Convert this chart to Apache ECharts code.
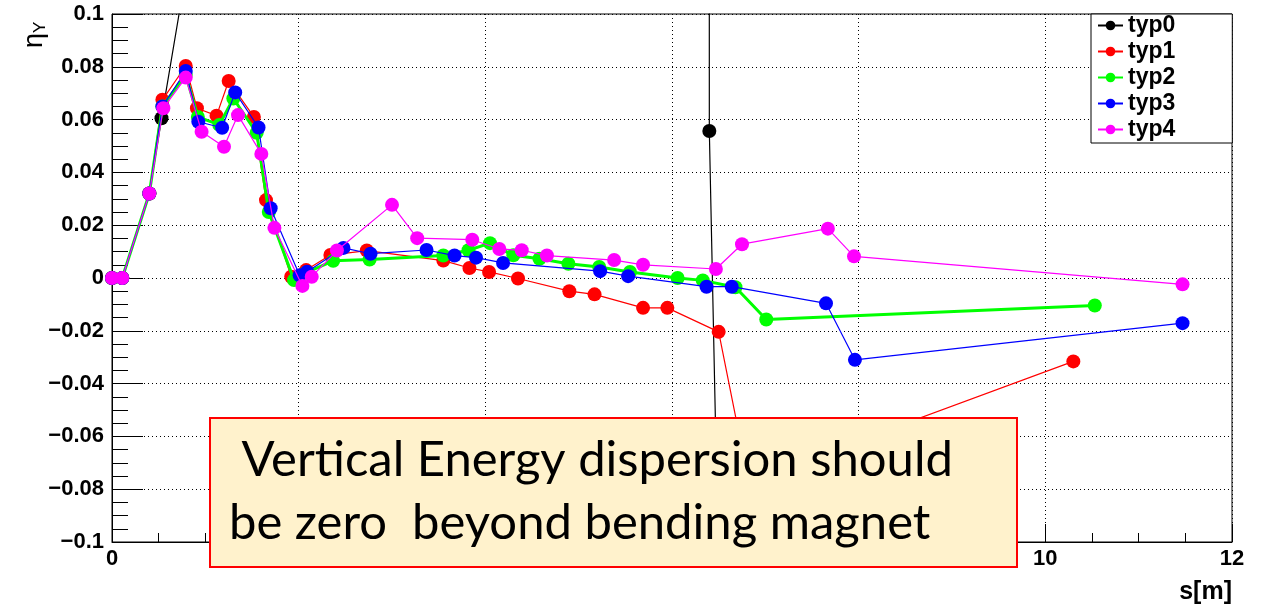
<!DOCTYPE html>
<html>
<head>
<meta charset="utf-8">
<script src="https://cdn.jsdelivr.net/npm/echarts@6.0.0/dist/echarts.min.js"></script>
<style>
  html, body { margin: 0; padding: 0; background: #fff; }
  #chart { width: 1261px; height: 607px; }
</style>
</head>
<body>
<div id="chart"></div>
<script>
// eta_Y vs s for five lattice types, [s (m), eta_Y]
const SERIES_NAMES = ['typ0', 'typ1', 'typ2', 'typ3', 'typ4'];
const SERIES_COLORS = ['#000000', '#ff0000', '#00ff00', '#0000ff', '#ff00ff'];

// typ0 runs off the frame: only a few points fall inside the window
const typ0 = [[0, 0], [0.11, 0], [0.40, 0.032], [0.53, 0.0605], [0.79, 0.115],
  [6.39, 1.5], [6.40, 0.0557], [6.70, -0.45]];

const typ1 = [[0, 0], [0.11, 0], [0.40, 0.032], [0.54, 0.0675], [0.79, 0.0803], [0.91, 0.0643],
  [1.12, 0.0615], [1.25, 0.0746], [1.52, 0.061], [1.65, 0.0295], [1.92, 0.0005], [2.08, 0.003],
  [2.34, 0.0087], [2.73, 0.0104], [3.55, 0.0066], [3.83, 0.0038], [4.04, 0.0023], [4.35, -0.0002],
  [4.90, -0.005], [5.17, -0.0062], [5.69, -0.0113], [5.95, -0.0113], [6.50, -0.0204],
  [6.82, -0.077], [10.30, -0.0316]];

const typ2 = [[0, 0], [0.11, 0], [0.40, 0.032], [0.54, 0.065], [0.79, 0.077], [0.92, 0.061],
  [1.15, 0.058], [1.30, 0.068], [1.55, 0.055], [1.68, 0.025], [1.95, -0.0008], [2.08, 0.002],
  [2.37, 0.0065], [2.76, 0.007], [3.55, 0.0085], [3.82, 0.0105], [4.05, 0.0132], [4.30, 0.0086],
  [4.58, 0.0073], [4.89, 0.0054], [5.22, 0.0042], [5.55, 0.0023], [6.06, 0.0], [6.33, -0.0009],
  [6.68, -0.0035], [7.01, -0.0157], [10.53, -0.0104]];

const typ3 = [[0, 0], [0.11, 0], [0.40, 0.032], [0.54, 0.065], [0.79, 0.0784], [0.925, 0.0592],
  [1.18, 0.0569], [1.32, 0.0703], [1.57, 0.057], [1.70, 0.0264], [2.01, 0.001], [2.09, 0.0024],
  [2.48, 0.0114], [2.77, 0.0092], [3.37, 0.0106], [3.67, 0.0085], [3.90, 0.0077], [4.19, 0.0057],
  [5.23, 0.0026], [5.53, 0.0007], [6.37, -0.0033], [6.64, -0.0033], [7.65, -0.0096],
  [7.96, -0.031], [11.47, -0.0171]];

const typ4 = [[0, 0], [0.11, 0], [0.40, 0.032], [0.55, 0.0643], [0.79, 0.0759], [0.96, 0.0554],
  [1.20, 0.0497], [1.35, 0.0617], [1.60, 0.047], [1.74, 0.019], [2.04, -0.003], [2.14, 0.0005],
  [2.41, 0.0104], [3.00, 0.0277], [3.27, 0.0151], [3.86, 0.0145], [4.15, 0.011], [4.39, 0.0105],
  [4.66, 0.0085], [5.38, 0.0068], [5.69, 0.005], [6.47, 0.0034], [6.75, 0.0128], [7.67, 0.0187],
  [7.95, 0.0082], [11.47, -0.0024]];

const SERIES_DATA = [typ0, typ1, typ2, typ3, typ4];
const LINE_WIDTHS = [1.2, 1.2, 3, 1.2, 1.2];

const NOTE_LINES = [' Vertical Energy dispersion should', 'be zero  beyond bending magnet'];

const FONT = '"Liberation Sans", Arial, Helvetica, sans-serif';
const NOTE_FONT = 'Lato, "Open Sans", sans-serif';
const fmtY = (v) => {
  const r = Math.round(v * 100) / 100;
  return r === 0 ? '0' : String(r).replace('-', '\u2212');
};

const chart = echarts.init(document.getElementById('chart'), null, { renderer: 'canvas' });

const dotted = { color: '#000', width: 1, type: [1, 3] };

chart.setOption({
  animation: false,
  backgroundColor: '#fff',
  grid: { left: 112, top: 14, right: 29, bottom: 65, show: true, borderColor: '#000', borderWidth: 1 },
  xAxis: {
    type: 'value', min: 0, max: 12, interval: 2,
    axisLine: { show: true, onZero: false, lineStyle: { color: '#000', width: 1 } },
    axisTick: { inside: true, length: 18, lineStyle: { color: '#000' } },
    minorTick: { show: true, splitNumber: 4, length: 9, lineStyle: { color: '#000' } },
    splitLine: { show: true, lineStyle: dotted },
    axisLabel: { color: '#000', fontFamily: FONT, fontWeight: 'bold', fontSize: 22, margin: 6 },
    name: 's[m]', nameLocation: 'end', nameGap: 0,
    nameTextStyle: { color: '#000', fontFamily: FONT, fontWeight: 'bold', fontSize: 25,
      align: 'right', verticalAlign: 'top', padding: [38, 0, 0, 0] },
  },
  yAxis: {
    type: 'value', min: -0.1, max: 0.1, interval: 0.02,
    axisLine: { show: true, onZero: false, lineStyle: { color: '#000', width: 1 } },
    axisTick: { inside: true, length: 31, lineStyle: { color: '#000' } },
    minorTick: { show: true, splitNumber: 4, length: 16, lineStyle: { color: '#000' } },
    splitLine: { show: true, lineStyle: dotted },
    axisLabel: { color: '#000', fontFamily: FONT, fontWeight: 'bold', fontSize: 22, margin: 8, formatter: fmtY },
  },
  legend: {
    orient: 'vertical', left: 1091, top: 14,
    data: SERIES_NAMES,
    backgroundColor: '#fff', borderColor: '#000', borderWidth: 1, borderRadius: 0,
    padding: [0, 57, 2, 6],
    itemWidth: 25, itemHeight: 12, itemGap: 3,
    textStyle: { color: '#000', fontFamily: FONT, fontWeight: 'bold', fontSize: 23, lineHeight: 20 },
  },
  series: SERIES_NAMES.map((name, i) => ({
    name, type: 'line', data: SERIES_DATA[i],
    symbol: 'circle', symbolSize: 14,
    itemStyle: { color: SERIES_COLORS[i] },
    lineStyle: { color: SERIES_COLORS[i], width: LINE_WIDTHS[i] },
    clip: true, z: 2 + i,
  })),
  graphic: [
    {
      type: 'text', x: 20, y: 48, rotation: Math.PI / 2, z: 50,
      style: {
        text: '{a|\u03b7}{b|Y}',
        rich: {
          a: { fontFamily: FONT, fontSize: 27, fill: '#000' },
          b: { fontFamily: FONT, fontSize: 17, fill: '#000', padding: [12, 0, 0, 0] },
        },
      },
    },
    {
      type: 'group', z: 100,
      children: [
        { type: 'rect', shape: { x: 210, y: 418, width: 807, height: 149 },
          style: { fill: '#fff2cc', stroke: '#ff0000', lineWidth: 2 }, z: 100 },
        { type: 'text', x: 229, y: 436, z: 101,
          style: { text: NOTE_LINES[0], fontFamily: NOTE_FONT, fontSize: 49, fill: '#000' } },
        { type: 'text', x: 229, y: 499, z: 101,
          style: { text: NOTE_LINES[1], fontFamily: NOTE_FONT, fontSize: 49, fill: '#000' } },
      ],
    },
  ],
});
</script>
</body>
</html>
